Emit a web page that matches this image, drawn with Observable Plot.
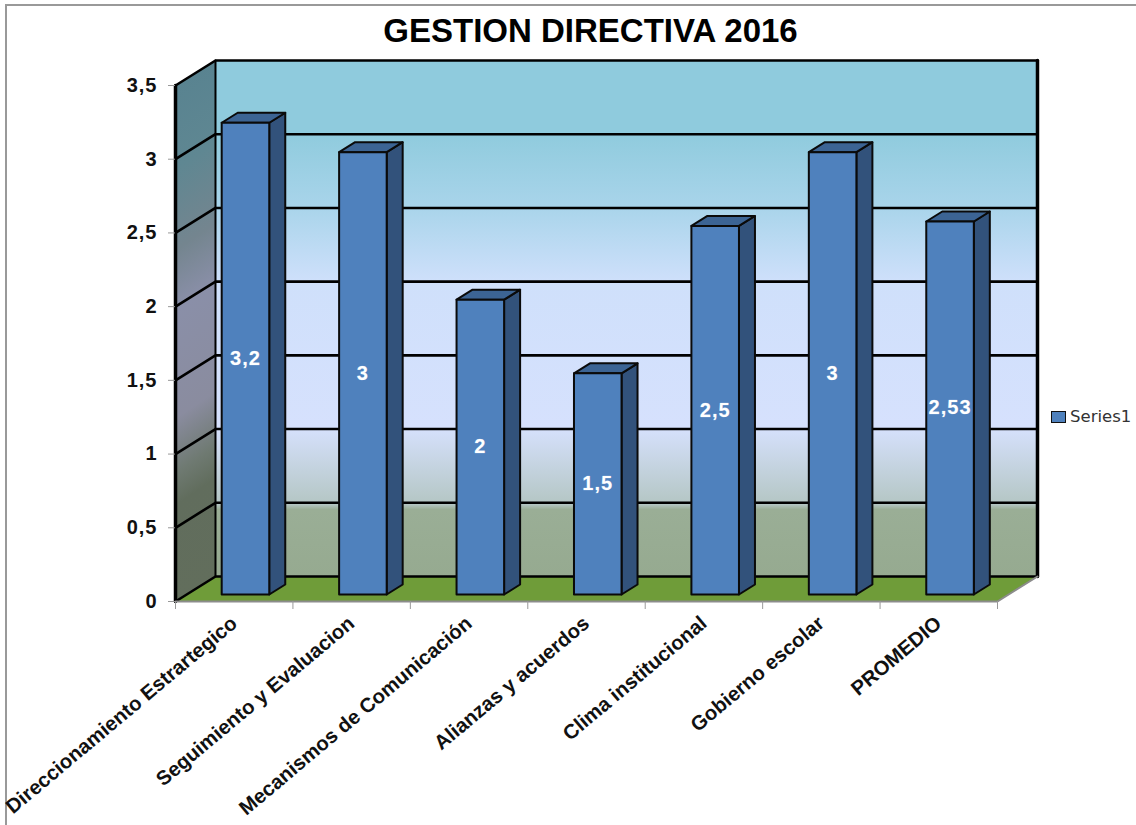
<!DOCTYPE html>
<html><head><meta charset="utf-8">
<script src="https://cdn.jsdelivr.net/npm/d3@7"></script>
<script src="https://cdn.jsdelivr.net/npm/@observablehq/plot@0.6"></script>
<style>
html,body{margin:0;padding:0;background:#fff;width:1136px;height:825px;overflow:hidden;position:relative}
#frame{position:absolute;left:5px;top:4px;width:1131px;height:821px;border-left:2px solid #999;border-top:2px solid #999;box-sizing:border-box}
#legend{position:absolute;left:1051px;top:407px;display:flex;align-items:center;font:16.5px "DejaVu Sans",sans-serif;color:#333}
#legend i{display:block;width:15px;height:12px;background:#4f81bd;border:1.5px solid #111;box-sizing:border-box;margin-right:4px}
svg{position:absolute;left:0;top:0}
.wide text, g[aria-label="y-axis tick label"] text{letter-spacing:1px}
</style></head><body>
<div id="frame"></div>
<div id="chart"></div>
<div id="legend"><i></i><span>Series1</span></div>
<script>
const chartTitle = "GESTION DIRECTIVA 2016";
const categories = ["Direccionamiento Estrartegico","Seguimiento y Evaluacion","Mecanismos de Comunicación","Alianzas y acuerdos","Clima institucional","Gobierno escolar","PROMEDIO"];
const values = [3.2,3,2,1.5,2.5,3,2.53];
const valueLabels = ["3,2","3","2","1,5","2,5","3","2,53"];
const yTicks = [0,0.5,1,1.5,2,2.5,3,3.5];
const yTickLabels = ["0","0,5","1","1,5","2","2,5","3","3,5"];
const xTicks = [0,1,2,3,4,5,6,7];

// oblique projection: d is depth into the box (0 front, 1 back wall), in data units
const DX = 0.3406, DY = 0.1696;
const P = (c, v, d = 0) => ({x: c + d * DX, y: v + d * DY});
const INSET = 0.298, BW = 0.405, D0 = 0.28, D1 = 0.68;
const YMAX = 3.5, N = categories.length;

const poly = (pts, fill, o = {}) => Plot.line(pts, {x: "x", y: "y", curve: "linear-closed", fill, stroke: "#0a0a0a", strokeWidth: 2, strokeLinejoin: "round", ...o});
const seg = (pts, o = {}) => Plot.line(pts, {x: "x", y: "y", stroke: "#000", strokeWidth: 2.6, ...o});

const marks = [];
// walls and floor
marks.push(poly([P(0,0),P(0,0,1),P(0,YMAX,1),P(0,YMAX)], "url(#sideWall)", {stroke: "none"}));
marks.push(poly([P(0,0,1),P(N,0,1),P(N,YMAX,1),P(0,YMAX,1)], "url(#backWall)", {stroke: "none"}));
marks.push(poly([P(0,0),P(N,0),P(N,0,1),P(0,0,1)], "#6f9c39", {stroke: "none"}));
// gridlines on both walls
for (const t of yTicks) {
  marks.push(seg([P(0,t),P(0,t,1),P(N,t,1)]));
}
marks.push(seg([P(0,0),P(0,YMAX)], {strokeWidth: 3.5}));
marks.push(seg([P(0,0,1),P(0,YMAX,1)], {strokeWidth: 2}));
marks.push(seg([P(N,0,1),P(N,YMAX,1)], {strokeWidth: 3.5}));
marks.push(seg([P(0,0),P(N,0),P(N,0,1)], {stroke: "#8c8c8c", strokeWidth: 2}));
// bars
values.forEach((v, i) => {
  const a = i + INSET, b = a + BW;
  marks.push(poly([P(b,0,D0),P(b,0,D1),P(b,v,D1),P(b,v,D0)], "#32527b"));
  marks.push(poly([P(a,v,D0),P(b,v,D0),P(b,v,D1),P(a,v,D1)], "#3c6494"));
  marks.push(poly([P(a,0,D0),P(b,0,D0),P(b,v,D0),P(a,v,D0)], "#4f81bd"));
});
// data labels
const labelPts = values.map((v, i) => ({...P(i + INSET + BW / 2, v / 2, D0), t: valueLabels[i]}));
marks.push(Plot.text(labelPts, {x: "x", y: "y", text: "t", fill: "#fff", stroke: "#8fb0dc", strokeWidth: 0.4, fontSize: 20, fontWeight: "bold", fontFamily: "Liberation Sans", className: "wide"}));
// axes
marks.push(Plot.axisY({ticks: yTicks, tickFormat: t => yTickLabels[yTicks.indexOf(t)], anchor: "left", tickSize: 7, tickPadding: 11, stroke: "#999", tickStrokeWidth: 1.5, fill: "#111", fontSize: 20, fontWeight: "bold", fontFamily: "Liberation Sans", label: null}));
marks.push(Plot.axisX({ticks: xTicks, tickFormat: () => "", anchor: "bottom", tickSize: 8, stroke: "#999", label: null}));
// category labels
marks.push(Plot.text(categories.map((c, i) => ({c, x: i + 0.5})), {x: "x", y: () => 0, text: "c", rotate: -40, textAnchor: "end", dx: 0, dy: 19, fontSize: 20.3, fontWeight: "bold", fontFamily: "Liberation Sans", fill: "#111"}));
// title
marks.push(Plot.text([chartTitle], {x: () => 3.5, y: () => YMAX, text: d => d, dx: 4, dy: -54, fontSize: 33, fontWeight: "bold", fontFamily: "Liberation Sans", fill: "#000"}));

const svg = Plot.plot({
  width: 1136, height: 825,
  marginLeft: 175, marginRight: 139, marginTop: 85, marginBottom: 224,
  x: {type: "linear", domain: [0, N], axis: null},
  y: {type: "linear", domain: [0, YMAX], axis: null},
  style: {background: "transparent", overflow: "visible"},
  marks
});

const stops = (id, grad, list) => {
  const g = d3.select(svg).append("defs").append("linearGradient").attr("id", id)
    .attr("x1", grad[0]).attr("y1", grad[1]).attr("x2", grad[2]).attr("y2", grad[3]);
  list.forEach(([o, c]) => g.append("stop").attr("offset", o).attr("stop-color", c));
};
stops("backWall", [0,0,0,1], [[0,"#8fcbdd"],[0.14,"#8fcbdd"],[0.28,"#a8d4ea"],[0.43,"#cfe0fb"],[0.71,"#d6e1fd"],[0.86,"#b4c6c4"],[0.87,"#9aae96"],[1,"#96aa90"]]);
stops("sideWall", [0,0,0.05,1], [[0,"#578290"],[0.2,"#5f8792"],[0.35,"#74858f"],[0.46,"#8a8fa8"],[0.66,"#8a8c9f"],[0.76,"#6f7a72"],[0.82,"#616d5d"],[1,"#626e5c"]]);
document.getElementById("chart").appendChild(svg);
</script>
</body></html>
